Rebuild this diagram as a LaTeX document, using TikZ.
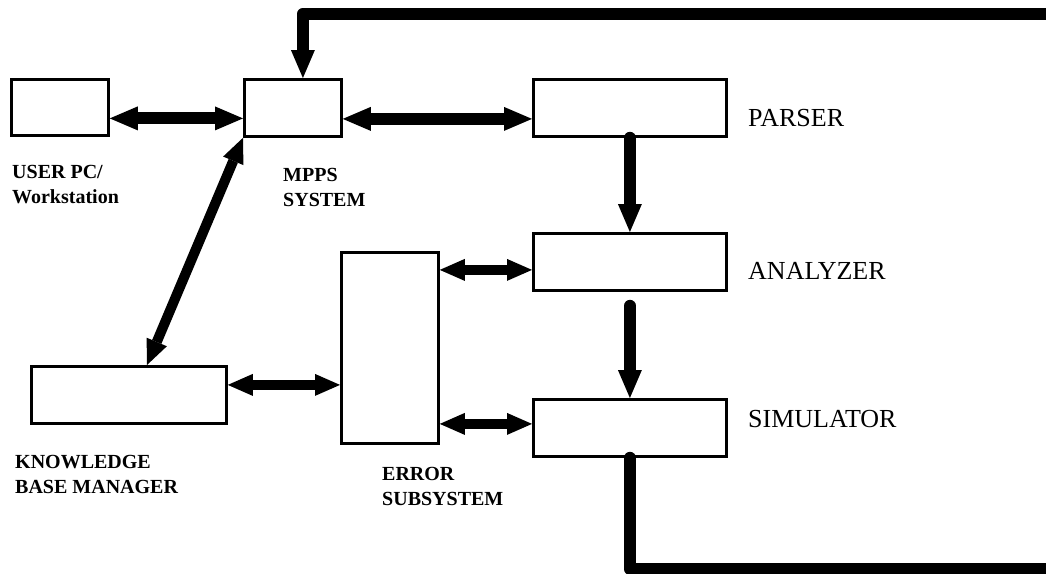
\documentclass[tikz,border=0pt]{standalone}
\usepackage{fontspec}
\setmainfont{Liberation Serif}
\usetikzlibrary{arrows.meta,calc}

\tikzset{
  blk/.style={draw, line width=2.8pt, inner sep=0pt, anchor=north west},
  lbl/.style={anchor=base west, inner sep=0pt, align=left,
              font=\fontsize{20}{24.5}\selectfont\bfseries},
  stagelbl/.style={anchor=base west, inner sep=0pt,
              font=\fontsize{26}{30}\selectfont},
  bigtip/.tip={Triangle[length=28pt,width=24pt,line width=0pt]},
  smalltip/.tip={Triangle[length=25pt,width=22pt,line width=0pt]},
  heavy/.style={line width=12pt, -bigtip},
  heavydbl/.style={line width=12pt, bigtip-bigtip},
  lightdbl/.style={line width=10pt, smalltip-smalltip},
}

\begin{document}
\begin{tikzpicture}[x=1pt, y=-1pt]
  \clip (0,0) rectangle (1046,573);
  \fill[white] (0,0) rectangle (1046,573);

  % blocks
  \node[blk, minimum width=97pt,  minimum height=56pt] (user)   at (10,78)  {};
  \node[blk, minimum width=97pt,  minimum height=57pt] (mpps)   at (243,78) {};
  \node[blk, minimum width=193pt, minimum height=57pt] (parser) at (532,78) {};
  \node[blk, minimum width=193pt, minimum height=57pt] (ana)    at (532,232) {};
  \node[blk, minimum width=193pt, minimum height=57pt] (sim)    at (532,398) {};
  \node[blk, minimum width=97pt,  minimum height=191pt] (err)   at (340,251) {};
  \node[blk, minimum width=195pt, minimum height=57pt] (kb)     at (30,365) {};

  % labels (anchored on the baseline of their last line)
  \node[lbl] (userlbl) at (12,203)  {USER PC/\\Workstation};
  \node[lbl] (mppslbl) at (283,206) {MPPS\\SYSTEM};
  \node[lbl] (kblbl)   at (15,493)  {KNOWLEDGE\\BASE MANAGER};
  \node[lbl] (errlbl)  at (382,505) {ERROR\\SUBSYSTEM};
  \node[stagelbl] (parserlbl) at (748,126) {PARSER};
  \node[stagelbl] (analbl)    at (748,279) {ANALYZER};
  \node[stagelbl] (simlbl)    at (748,427) {SIMULATOR};

  % attachment points
  \coordinate (userR)  at ([yshift=-11pt]user.east);
  \coordinate (mppsR)  at ([yshift=-11pt]mpps.east);
  \coordinate (anaL)   at ([yshift=-8pt]ana.west);
  \coordinate (simL)   at ([yshift=4pt]sim.west);
  \coordinate (kbR)    at ([yshift=10pt]kb.east);
  \coordinate (kbTop)  at ([xshift=117pt]kb.north west);
  \coordinate (mppsIn) at ([xshift=10pt]mpps.north);

  % two-way links
  \draw[heavydbl] (userR) -- (mpps.west |- userR);
  \draw[heavydbl] (mppsR) -- (parser.west |- mppsR);
  \draw[lightdbl] (err.east |- anaL) -- (anaL);
  \draw[lightdbl] (err.east |- simL) -- (simL);
  \draw[lightdbl] (kbR) -- (err.west |- kbR);
  \draw[lightdbl] (mpps.south west) -- (kbTop);

  % pipeline
  \draw[heavy, line cap=round] (parser.south) -- (ana.north);
  \draw[heavy, line cap=round] ([yshift=-14pt]ana.south) -- (sim.north);

  % feedback loop from the simulator back to the MPPS system
  \draw[heavy, line cap=round, line join=round]
    (sim.south) |- (1070,569) -- (1070,14) -| (mppsIn);
\end{tikzpicture}
\end{document}
